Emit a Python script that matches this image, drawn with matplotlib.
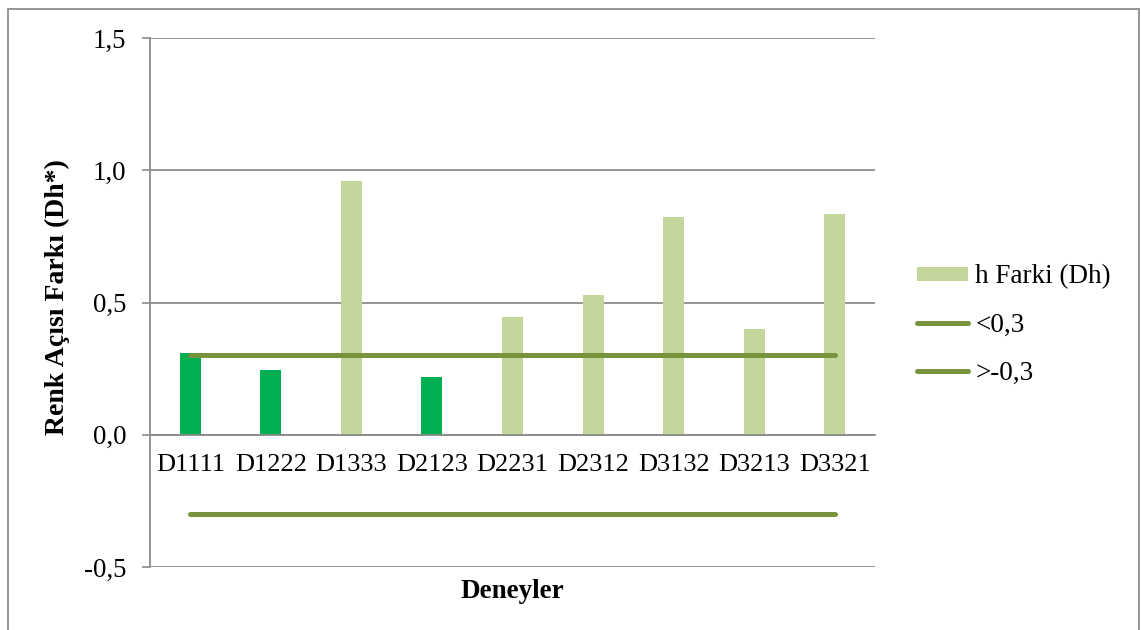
import matplotlib
matplotlib.use("Agg")
import matplotlib.pyplot as plt
from matplotlib.patches import Patch, Rectangle
from matplotlib.lines import Line2D

categories = ["D1111", "D1222", "D1333", "D2123", "D2231", "D2312", "D3132", "D3213", "D3321"]
h_farki = [0.31, 0.246, 0.958, 0.22, 0.447, 0.527, 0.822, 0.40, 0.833]
bar_group = ["dark", "dark", "light", "dark", "light", "light", "light", "light", "light"]
upper_limit = 0.3
lower_limit = -0.3
yticks = [-0.5, 0.0, 0.5, 1.0, 1.5]
ytick_labels = ["-0,5", "0,0", "0,5", "1,0", "1,5"]

dark = "#00B050"
light = "#C3D69B"
line_c = "#77933C"
grid_c = "#8C8C8C"

plt.rcParams['font.family'] = ['Liberation Serif', 'DejaVu Serif']
fs = 19.5

fig = plt.figure(figsize=(11.41, 6.30), dpi=100)
ax = fig.add_axes([150/1141, 1-567/630, (875-150)/1141, (567-38)/630])

x = list(range(len(categories)))
colors = [dark if g == "dark" else light for g in bar_group]
ax.bar(x, h_farki, width=0.26, color=colors, zorder=2)
ax.plot([x[0], x[-1]], [upper_limit, upper_limit], color=line_c, lw=3.6,
        solid_capstyle='round', zorder=3)
ax.plot([x[0], x[-1]], [lower_limit, lower_limit], color=line_c, lw=3.6,
        solid_capstyle='round', zorder=3)

ax.set_xlim(-0.5, len(categories) - 0.5)
ax.set_ylim(-0.5, 1.5)
for s in ['top', 'right']:
    ax.spines[s].set_visible(False)
ax.spines['bottom'].set_position(('data', 0))
ax.spines['bottom'].set_color(grid_c)
ax.spines['bottom'].set_linewidth(1.3)
ax.spines['left'].set_color(grid_c)
ax.spines['left'].set_linewidth(1.3)

ax.set_yticks(yticks)
ax.set_yticklabels(ytick_labels)
ax.set_xticks(x)
ax.set_xticklabels(categories)
ax.tick_params(axis='x', length=0, pad=14, labelsize=19)
ax.tick_params(axis='y', length=6, width=1.2, color=grid_c, pad=11, labelsize=19.3)
ax.yaxis.grid(True, color=grid_c, lw=1.3, zorder=0)
ax.set_axisbelow(True)

fig.text(512/1141, 1-592/630, "Deneyler", ha='center', va='center',
         fontsize=fs, fontweight='bold')
fig.text(57/1141, 1-297/630, "Renk Açısı Farkı (Dh*)", ha='center', va='center',
         rotation=90, fontsize=20, fontweight='bold')

handles = [Patch(facecolor=light, edgecolor='none'),
           Line2D([0], [0], color=line_c, lw=3.6, solid_capstyle='round'),
           Line2D([0], [0], color=line_c, lw=3.6, solid_capstyle='round')]
labels = ["h Farki (Dh)", "<0,3", ">-0,3"]
fig.legend(handles, labels, loc='center left', bbox_to_anchor=(917/1141, 1-325/630),
           frameon=False, fontsize=fs, handlelength=1.9, handleheight=0.45,
           handletextpad=0.25, labelspacing=0.85, borderpad=0, borderaxespad=0)

fig.patches.append(Rectangle((8/1141, -0.05), (1139-8)/1141, 1.05-9/630,
                             transform=fig.transFigure, fill=False,
                             edgecolor='#8C8C8C', lw=1.3))

fig.savefig("out.png", dpi=100)
